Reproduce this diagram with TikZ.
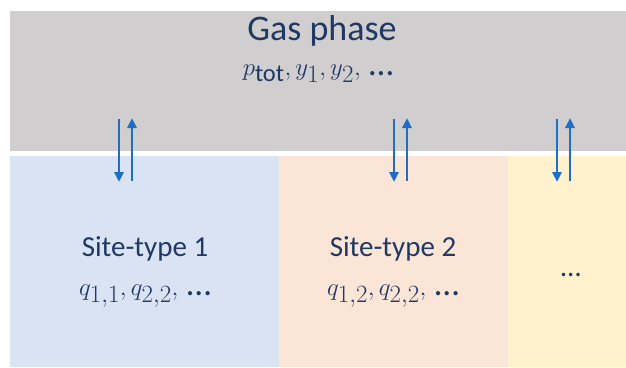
\documentclass[tikz,border=0pt]{standalone}
\usepackage{fontspec}
\setmainfont{Carlito}
\usepackage{amsmath}
\usetikzlibrary{arrows.meta}
\definecolor{gasgray}{RGB}{208,206,206}
\definecolor{siteblue}{RGB}{218,227,243}
\definecolor{siteorange}{RGB}{251,229,214}
\definecolor{siteyellow}{RGB}{255,242,204}
\definecolor{arrowblue}{RGB}{30,110,200}
\definecolor{textnavy}{RGB}{32,56,100}
\newcommand{\dotsafter}{\,\text{…}}

\begin{document}
\begin{tikzpicture}[x=1pt,y=-1pt,>={Triangle[width=9pt,length=10pt]}]
  \useasboundingbox (0,0) rectangle (626,367);
  \tikzset{
    label/.style={text=textnavy,font=\fontsize{29}{34}\selectfont,anchor=base,inner sep=0pt},
    biglabel/.style={label,font=\fontsize{36}{42}\selectfont},
    vars/.style={label,font=\fontsize{35}{40}\selectfont},
    flux/.style={->,arrowblue,line width=2.8pt}
  }
  % Gas phase on top, site types below
  \fill[gasgray] (10,11) rectangle (626,151);
  \fill[siteblue] (10,156) rectangle (279,367);
  \fill[siteorange] (279,156) rectangle (508,367);
  \fill[siteyellow] (508,156) rectangle (626,367);
  % Texts
  \node[biglabel] (gas) at (322,40) {Gas phase};
  \node[vars] (gasvars) at (318,75) {$p_{\text{tot}}, y_1, y_2,\dotsafter$};
  \node[label] (site1) at (145,256) {Site-type 1};
  \node[vars] (site1vars) at (145,295) {$q_{1,1}, q_{2,2},\dotsafter$};
  \node[label] (site2) at (393,256) {Site-type 2};
  \node[vars] (site2vars) at (393,295) {$q_{1,2}, q_{2,2},\dotsafter$};
  \node[label] (siteN) at (571,276) {…};
  % Adsorption / desorption arrows
  \foreach \i/\x in {a/119, b/394, c/557} {
    \coordinate (down\i top) at (\x,119);
    \coordinate (down\i tip) at (\x,182);
    \coordinate (up\i foot) at (\x+13,181);
    \coordinate (up\i tip) at (\x+13,118);
    \draw[flux] (down\i top) -- (down\i tip);
    \draw[flux] (up\i foot) -- (up\i tip);
  }
\end{tikzpicture}
\end{document}
